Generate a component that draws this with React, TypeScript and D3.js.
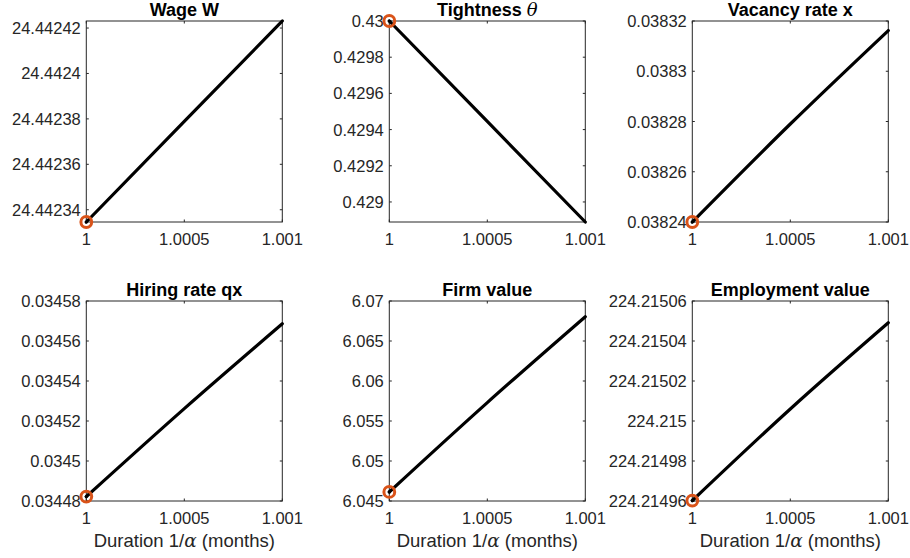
import React from "react";
import * as d3 from "d3";

const xValues = [1, 1.0005, 1.001];
const xTicks = [1, 1.0005, 1.001];

const wageValues = [24.4423346, 24.4423789, 24.4424231];
const tightnessValues = [0.43, 0.4294447, 0.4288893];
const vacancyValues = [0.03824, 0.038279, 0.0383162];
const hiringValues = [0.0344822, 0.0345262, 0.0345686];
const firmValues = [6.04613, 6.0573, 6.06804];
const employmentValues = [224.2149602, 224.215006, 224.2150491];

const wageTicks = [24.44234, 24.44236, 24.44238, 24.4424, 24.44242];
const tightnessTicks = [0.429, 0.4292, 0.4294, 0.4296, 0.4298, 0.43];
const vacancyTicks = [0.03824, 0.03826, 0.03828, 0.0383, 0.03832];
const hiringTicks = [0.03448, 0.0345, 0.03452, 0.03454, 0.03456, 0.03458];
const firmTicks = [6.045, 6.05, 6.055, 6.06, 6.065, 6.07];
const employmentTicks = [224.21496, 224.21498, 224.215, 224.21502, 224.21504, 224.21506];

const wageDomain = [24.4423346, 24.4424231];
const tightnessDomain = [0.4288893, 0.43];
const vacancyDomain = [0.03824, 0.03832];
const hiringDomain = [0.03448, 0.03458];
const firmDomain = [6.045, 6.07];
const employmentDomain = [224.21496, 224.21506];

const FONT = "'Liberation Sans', Arial, Helvetica, sans-serif";
const SERIF = "'DejaVu Serif', 'Liberation Serif', serif";
const AXC = "#262626";

const fmt = (v: number) => String(parseFloat(v.toFixed(7)));

type PanelDef = {
  title: React.ReactNode;
  values: number[];
  ticks: number[];
  domain: number[];
};

const panels: PanelDef[] = [
  { title: "Wage W", values: wageValues, ticks: wageTicks, domain: wageDomain },
  {
    title: (
      <>
        Tightness{" "}
        <tspan fontFamily={SERIF} fontStyle="italic" fontWeight="normal">θ</tspan>
      </>
    ),
    values: tightnessValues,
    ticks: tightnessTicks,
    domain: tightnessDomain,
  },
  { title: "Vacancy rate x", values: vacancyValues, ticks: vacancyTicks, domain: vacancyDomain },
  { title: "Hiring rate qx", values: hiringValues, ticks: hiringTicks, domain: hiringDomain },
  { title: "Firm value", values: firmValues, ticks: firmTicks, domain: firmDomain },
  { title: "Employment value", values: employmentValues, ticks: employmentTicks, domain: employmentDomain },
];

const colLefts = [86.3, 389.3, 692.3];
const rowTops = [21, 301];
const rowHeights = [201, 200];
const PW = 196;
const TL = 2.5;

function Panel({ def, left, top, h, showXLabel }: { def: PanelDef; left: number; top: number; h: number; showXLabel: boolean }) {
  const x = d3.scaleLinear().domain([1, 1.001]).range([left, left + PW]);
  const y = d3.scaleLinear().domain(def.domain as [number, number]).range([top + h, top]);
  const line = d3
    .line<number>()
    .x((_, i) => x(xValues[i]))
    .y((d) => y(d))
    .curve(d3.curveNatural);
  const bottom = top + h;
  const right = left + PW;
  return (
    <g>
      <rect x={left} y={top} width={PW} height={h} fill="#fff" stroke="none" />
      {def.ticks.map((t) => (
        <g key={"y" + t}>
          <line x1={left} x2={left + TL} y1={y(t)} y2={y(t)} stroke={AXC} strokeWidth={1} />
          <line x1={right} x2={right - TL} y1={y(t)} y2={y(t)} stroke={AXC} strokeWidth={1} />
          <text
            x={left - 5.5}
            y={y(t)}
            textAnchor="end"
            dominantBaseline="central"
            fontSize={16.5}
            fontFamily={FONT}
            fill={AXC}
          >
            {fmt(t)}
          </text>
        </g>
      ))}
      {xTicks.map((t) => (
        <g key={"x" + t}>
          <line x1={x(t)} x2={x(t)} y1={bottom} y2={bottom - TL} stroke={AXC} strokeWidth={1} />
          <line x1={x(t)} x2={x(t)} y1={top} y2={top + TL} stroke={AXC} strokeWidth={1} />
          <text x={x(t)} y={bottom + 23} textAnchor="middle" fontSize={16.5} fontFamily={FONT} fill={AXC}>
            {fmt(t)}
          </text>
        </g>
      ))}
      <rect x={left} y={top} width={PW} height={h} fill="none" stroke={AXC} strokeWidth={1} />
      <path d={line(def.values) || ""} fill="none" stroke="#000" strokeWidth={3.2} strokeLinecap="round" />
      <circle cx={x(xValues[0])} cy={y(def.values[0])} r={1.6} fill="#000" />
      <circle cx={x(xValues[0])} cy={y(def.values[0])} r={5.4} fill="none" stroke="#D95319" strokeWidth={3} />
      <text
        x={left + PW / 2}
        y={top - 5.5}
        textAnchor="middle"
        fontSize={18}
        fontWeight="bold"
        fontFamily={FONT}
        fill="#000"
      >
        {def.title}
      </text>
      {showXLabel && (
        <text x={left + PW / 2} y={bottom + 46} textAnchor="middle" fontSize={18.5} fontFamily={FONT} fill={AXC}>
          Duration 1/
          <tspan fontFamily={SERIF} fontStyle="italic">α</tspan> (months)
        </text>
      )}
    </g>
  );
}

export default function App() {
  return (
    <svg
      width={910}
      height={558}
      viewBox="0 0 910 558"
      style={{ position: "absolute", left: 0, top: 0, background: "#fff" }}
    >
      <rect x={0} y={0} width={910} height={558} fill="#fff" />
      {panels.map((p, i) => {
        const r = Math.floor(i / 3);
        const c = i % 3;
        return (
          <Panel
            key={i}
            def={p}
            left={colLefts[c]}
            top={rowTops[r]}
            h={rowHeights[r]}
            showXLabel={r === 1}
          />
        );
      })}
    </svg>
  );
}
